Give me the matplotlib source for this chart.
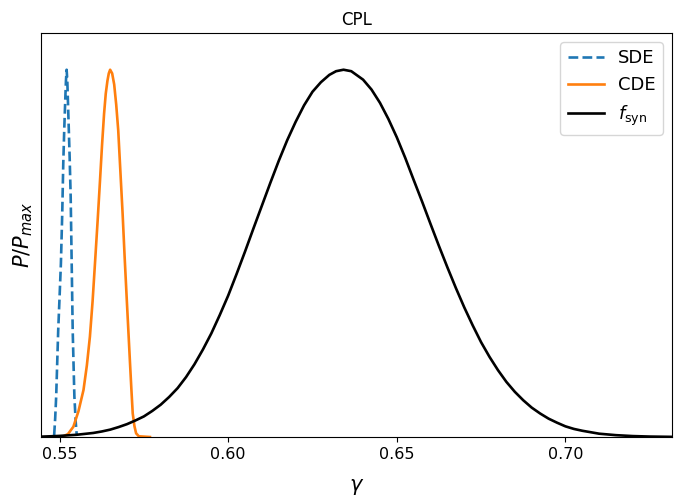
import numpy as np
import matplotlib.pyplot as plt

# gamma posterior curves, normalised to peak
sde_gamma = [0.5484, 0.5487, 0.5490, 0.5493, 0.5496, 0.5500, 0.5504, 0.5508,
             0.5511, 0.5514, 0.5517, 0.5519, 0.5521, 0.5523, 0.5526, 0.5530,
             0.5533, 0.5536, 0.5539, 0.5542, 0.5544, 0.5548, 0.5551]
sde_p = [0.005, 0.05, 0.11, 0.20, 0.29, 0.38, 0.472, 0.61,
         0.744, 0.84, 0.92, 0.97, 1.0, 0.97, 0.88, 0.76,
         0.654, 0.472, 0.29, 0.18, 0.11, 0.04, 0.005]

cde_gamma = [0.5507, 0.5525, 0.5541, 0.5556, 0.5571, 0.5581, 0.5590, 0.5598,
             0.5605, 0.5613, 0.5620, 0.5626, 0.5632, 0.5637, 0.5642, 0.5646,
             0.5650, 0.5656, 0.5662, 0.5668, 0.5674, 0.5680, 0.5687, 0.5693,
             0.5699, 0.5704, 0.5709, 0.5713, 0.5717, 0.5722, 0.5727, 0.5735,
             0.5768]
cde_p = [0.0, 0.008, 0.028, 0.07, 0.128, 0.195, 0.273, 0.37,
         0.472, 0.59, 0.699, 0.795, 0.88, 0.935, 0.97, 0.99,
         1.0, 0.99, 0.96, 0.905, 0.835, 0.73, 0.608, 0.49,
         0.38, 0.29, 0.20, 0.13, 0.064, 0.03, 0.01, 0.002,
         0.0]

fsyn_gamma = [0.5445, 0.5475, 0.550, 0.5525, 0.555, 0.5575, 0.560, 0.5625,
              0.565, 0.5675, 0.570, 0.5725, 0.575, 0.5775, 0.580, 0.5825,
              0.585, 0.5875, 0.590, 0.5925, 0.595, 0.5975, 0.600, 0.6025,
              0.605, 0.6075, 0.610, 0.6125, 0.615, 0.6175, 0.620, 0.6225,
              0.625, 0.6275, 0.630, 0.632, 0.6342, 0.6365, 0.640, 0.6425,
              0.645, 0.6475, 0.650, 0.6525, 0.655, 0.6575, 0.660, 0.6625,
              0.665, 0.6675, 0.670, 0.6725, 0.675, 0.6775, 0.680, 0.6825,
              0.685, 0.6875, 0.690, 0.6925, 0.695, 0.6975, 0.700, 0.7025,
              0.705, 0.7075, 0.710, 0.715, 0.720, 0.725, 0.7316]
fsyn_p = [0.001, 0.002, 0.003, 0.0045, 0.006, 0.0085, 0.011, 0.015,
          0.020, 0.027, 0.035, 0.045, 0.056, 0.071, 0.088, 0.109,
          0.133, 0.163, 0.198, 0.238, 0.282, 0.332, 0.385, 0.444,
          0.505, 0.568, 0.630, 0.692, 0.752, 0.808, 0.858, 0.903,
          0.940, 0.966, 0.986, 0.996, 1.0, 0.996, 0.973, 0.946,
          0.910, 0.866, 0.816, 0.760, 0.700, 0.641, 0.580, 0.520,
          0.462, 0.406, 0.353, 0.304, 0.258, 0.218, 0.182, 0.150,
          0.123, 0.100, 0.080, 0.064, 0.050, 0.039, 0.029, 0.022,
          0.017, 0.013, 0.009, 0.005, 0.0025, 0.0012, 0.0004]

xticks = [0.55, 0.60, 0.65, 0.70]

fig = plt.figure(figsize=(6.85, 4.98), dpi=100)
ax = fig.add_axes([41 / 685, 1 - 437 / 498, (672 - 41) / 685, (437 - 33) / 498])

ax.plot(sde_gamma, sde_p, '--', color='tab:blue', lw=1.9, label='SDE')
ax.plot(cde_gamma, cde_p, '-', color='tab:orange', lw=1.9, label='CDE')
ax.plot(fsyn_gamma, fsyn_p, '-', color='black', lw=1.9, label=r'$f_{\rm syn}$')

ax.set_xlim(0.5445, 0.7316)
ax.set_ylim(0, 1.1)
ax.set_xticks(xticks)
ax.set_yticks([])
ax.tick_params(axis='x', labelsize=11.5)
ax.set_xlabel(r'$\gamma$', fontsize=15, labelpad=11)
ax.set_ylabel(r'$P/P_{max}$', fontsize=15)
ax.set_title('CPL', fontsize=12)
ax.legend(loc='upper right', fontsize=13)

fig.savefig('out.png', dpi=100)
